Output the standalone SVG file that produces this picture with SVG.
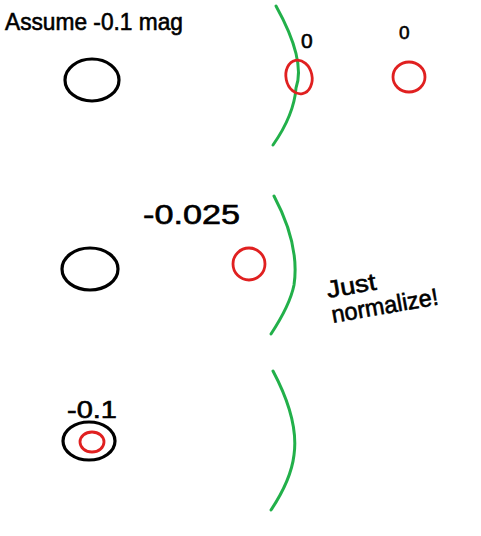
<svg xmlns="http://www.w3.org/2000/svg" width="481" height="536" viewBox="0 0 481 536">
<style>
.blk{fill:none;stroke:#000;stroke-width:3.2}
.red{fill:none;stroke:#e02020;stroke-width:2.8}
.grn{fill:none;stroke:#22b04a;stroke-width:3;stroke-linecap:round}
text{font-family:"Liberation Sans",Arial,sans-serif;fill:#000;stroke:#000;stroke-width:0.6}
</style>
<rect width="481" height="536" fill="#fff"/>
<g id="title"><text x="5" y="30" font-size="24" textLength="178" lengthAdjust="spacingAndGlyphs">Assume -0.1 mag</text></g>
<g id="row1">
<g id="star1"><ellipse class="blk" cx="92" cy="80" rx="27" ry="21"/></g>
<g id="lens1"><path class="grn" d="M276,6 Q306,60 296,88 Q294,115 273,145"/></g>
<g id="img1a"><ellipse class="red" cx="299" cy="77" rx="13" ry="17" transform="rotate(-12 299 77)"/></g>
<g id="lbl1a"><text x="301" y="48" font-size="21">0</text></g>
<g id="img1b"><ellipse class="red" cx="409" cy="77" rx="16" ry="15"/></g>
<g id="lbl1b"><text x="399" y="39" font-size="19">0</text></g>
</g>
<g id="row2">
<g id="lbl2"><text x="143" y="224" font-size="27" textLength="97" lengthAdjust="spacingAndGlyphs">-0.025</text></g>
<g id="star2"><ellipse class="blk" cx="90" cy="269" rx="28" ry="21"/></g>
<g id="img2"><ellipse class="red" cx="249" cy="264" rx="16" ry="16"/></g>
<g id="lens2"><path class="grn" d="M274,196 Q300,245 294,285 Q290,305 271,334"/></g>
<g id="note"><text transform="translate(328 298) rotate(-10)" font-size="24" textLength="50" lengthAdjust="spacingAndGlyphs">Just</text><text transform="translate(333 323) rotate(-10)" font-size="24" textLength="108" lengthAdjust="spacingAndGlyphs">normalize!</text></g>
</g>
<g id="row3">
<g id="lbl3"><text x="67" y="418" font-size="24" textLength="50" lengthAdjust="spacingAndGlyphs">-0.1</text></g>
<g id="star3"><ellipse class="blk" cx="89" cy="441" rx="26" ry="19"/></g>
<g id="img3"><ellipse class="red" cx="92" cy="442" rx="12" ry="10"/></g>
<g id="lens3"><path class="grn" d="M273,371 Q299,420 294,455 Q291,480 271,510"/></g>
</g>
<g id="connectors"/>
</svg>
